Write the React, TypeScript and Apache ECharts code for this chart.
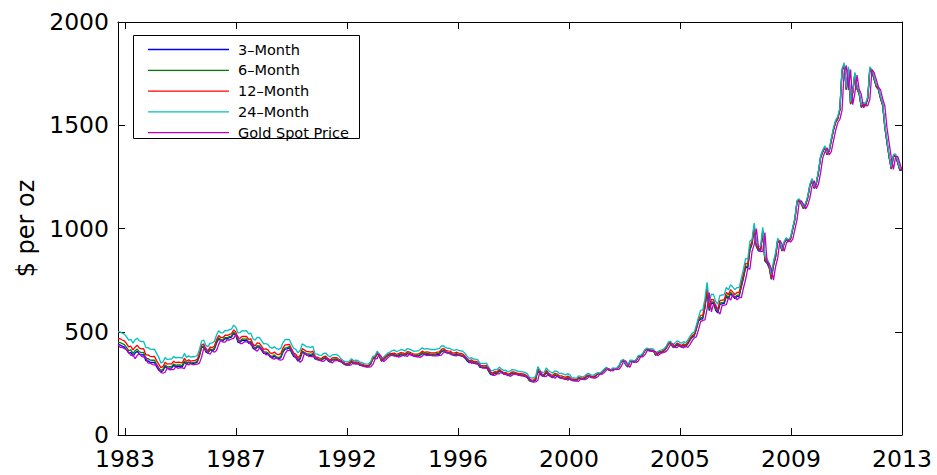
import React, { useEffect, useRef } from 'react';
import * as echarts from 'echarts';

// Monthly observations, May 1983 .. Nov 2013 (one row per year)
const START_YEAR = 1983;
const START_MONTH = 5;

const SPOT = [
  438, 425, 424, 418, 414, 400, 385, 388,
  370, 386, 394, 381, 377, 378, 348, 348, 341, 340, 341, 320,
  303, 299, 304, 325, 316, 317, 317, 330, 323, 326, 325, 322,
  345, 339, 346, 340, 342, 343, 348, 376, 418, 423, 397, 391,
  408, 401, 409, 439, 460, 450, 450, 461, 460, 465, 468, 487,
  477, 442, 443, 452, 451, 452, 437, 440, 413, 406, 420, 419,
  404, 388, 390, 385, 371, 367, 375, 365, 362, 367, 394, 409,
  410, 416, 393, 374, 369, 352, 362, 395, 389, 381, 381, 378,
  383, 364, 363, 358, 357, 366, 368, 356, 349, 359, 360, 361,
  354, 354, 345, 338, 337, 341, 353, 343, 345, 344, 335, 334,
  329, 329, 330, 342, 367, 371, 392, 379, 355, 364, 374, 383,
  387, 382, 384, 377, 381, 386, 385, 380, 391, 389, 384, 379,
  379, 376, 382, 391, 385, 387, 386, 383, 383, 383, 386, 387,
  400, 405, 396, 393, 392, 385, 383, 387, 383, 381, 378, 369,
  355, 347, 352, 344, 344, 341, 324, 324, 323, 325, 306, 289,
  289, 297, 296, 308, 299, 292, 293, 284, 289, 296, 294, 291,
  287, 287, 286, 282, 277, 261, 256, 257, 265, 311, 293, 283,
  284, 300, 286, 280, 275, 286, 282, 274, 273, 270, 266, 272,
  266, 262, 263, 260, 272, 270, 268, 273, 283, 283, 276, 276,
  282, 296, 294, 303, 314, 322, 314, 310, 319, 317, 319, 333,
  356, 359, 340, 328, 355, 356, 351, 360, 379, 379, 389, 407,
  414, 405, 406, 404, 384, 392, 398, 400, 406, 420, 439, 442,
  424, 423, 434, 429, 422, 430, 424, 438, 456, 470, 476, 510,
  549, 555, 557, 610, 690, 596, 633, 632, 598, 585, 627, 629,
  631, 665, 654, 679, 667, 655, 665, 665, 712, 754, 806, 803,
  889, 922, 1000, 909, 888, 889, 980, 839, 829, 806, 750, 816,
  858, 943, 924, 890, 928, 946, 934, 949, 996, 1043, 1127, 1134,
  1117, 1095, 1113, 1148, 1205, 1232, 1193, 1215, 1271, 1342, 1370, 1391,
  1356, 1372, 1424, 1474, 1512, 1529, 1572, 1760, 1790, 1670, 1770, 1600,
  1656, 1743, 1674, 1650, 1585, 1596, 1594, 1626, 1770, 1755, 1721, 1684,
  1671, 1627, 1593, 1487, 1414, 1343, 1286, 1347, 1349, 1316, 1280,
];

const FUT_3M = [
  437, 436, 430, 426, 412, 397, 400, 382,
  397, 405, 392, 388, 389, 359, 359, 352, 351, 352, 331, 314,
  306, 311, 332, 323, 324, 324, 337, 330, 333, 332, 329, 352,
  344, 351, 345, 347, 348, 353, 381, 423, 428, 402, 396, 413,
  407, 415, 445, 466, 456, 456, 467, 466, 471, 474, 493, 483,
  449, 450, 459, 458, 459, 444, 447, 420, 413, 427, 426, 411,
  395, 397, 392, 378, 374, 382, 372, 369, 374, 401, 416, 417,
  422, 399, 380, 375, 358, 368, 401, 395, 387, 387, 384, 389,
  368, 367, 362, 361, 370, 372, 360, 353, 363, 364, 365, 358,
  356, 347, 340, 339, 343, 355, 345, 347, 346, 337, 336, 331,
  331, 332, 344, 369, 373, 394, 381, 357, 366, 376, 385, 389,
  385, 387, 380, 384, 389, 388, 383, 394, 392, 387, 382, 382,
  380, 386, 395, 389, 391, 390, 387, 387, 387, 390, 391, 404,
  408, 399, 396, 395, 388, 386, 390, 386, 384, 381, 372, 358,
  350, 355, 347, 347, 344, 327, 327, 326, 328, 309, 292, 292,
  300, 299, 311, 302, 295, 296, 287, 292, 299, 297, 294, 290,
  289, 288, 284, 279, 263, 258, 259, 267, 313, 295, 285, 286,
  303, 289, 283, 278, 289, 285, 277, 276, 273, 269, 275, 269,
  264, 265, 262, 274, 272, 270, 275, 285, 285, 278, 278, 284,
  297, 295, 304, 315, 323, 315, 311, 320, 318, 320, 334, 357,
  360, 341, 329, 356, 357, 352, 361, 380, 380, 390, 408, 415,
  407, 408, 406, 386, 394, 400, 402, 408, 422, 441, 444, 426,
  426, 437, 432, 425, 433, 427, 441, 459, 473, 479, 513, 552,
  561, 563, 616, 696, 602, 639, 638, 604, 591, 633, 635, 637,
  671, 660, 685, 673, 661, 671, 671, 718, 760, 812, 809, 895,
  925, 1003, 912, 891, 892, 983, 842, 832, 809, 753, 819, 861,
  944, 925, 891, 929, 947, 935, 950, 997, 1044, 1128, 1135, 1118,
  1096, 1114, 1149, 1206, 1233, 1194, 1216, 1272, 1343, 1371, 1392, 1357,
  1374, 1426, 1476, 1514, 1531, 1574, 1762, 1792, 1672, 1772, 1602, 1658,
  1745, 1676, 1652, 1587, 1598, 1596, 1628, 1772, 1757, 1723, 1686, 1673,
  1628, 1594, 1488, 1415, 1344, 1287, 1348, 1350, 1317, 1281, 1281,
];

const FUT_6M = [
  449, 448, 442, 438, 424, 409, 412, 394,
  408, 416, 403, 399, 400, 370, 370, 363, 362, 363, 342, 325,
  313, 318, 339, 330, 331, 331, 344, 337, 340, 339, 336, 359,
  348, 355, 349, 351, 352, 357, 385, 427, 432, 406, 400, 417,
  412, 420, 450, 471, 461, 461, 472, 471, 476, 479, 498, 488,
  455, 456, 465, 464, 465, 450, 453, 426, 419, 433, 432, 417,
  401, 403, 398, 384, 380, 388, 378, 375, 380, 407, 422, 423,
  428, 405, 386, 381, 364, 374, 407, 401, 393, 393, 390, 395,
  371, 370, 365, 364, 373, 375, 363, 356, 366, 367, 368, 361,
  358, 349, 342, 341, 345, 357, 347, 349, 348, 339, 338, 333,
  333, 334, 346, 371, 375, 396, 383, 359, 368, 378, 387, 391,
  389, 391, 384, 388, 393, 392, 387, 398, 396, 391, 386, 386,
  384, 390, 399, 393, 395, 394, 391, 391, 391, 394, 395, 408,
  412, 403, 400, 399, 392, 390, 394, 390, 388, 385, 376, 362,
  353, 358, 350, 350, 347, 330, 330, 329, 331, 312, 295, 295,
  302, 301, 313, 304, 297, 298, 289, 294, 301, 299, 296, 292,
  292, 291, 287, 282, 266, 261, 262, 270, 316, 298, 288, 289,
  306, 292, 286, 281, 292, 288, 280, 279, 276, 272, 278, 272,
  265, 266, 263, 275, 273, 271, 276, 286, 286, 279, 279, 285,
  298, 296, 305, 316, 324, 316, 312, 321, 319, 321, 335, 358,
  361, 342, 330, 357, 358, 353, 362, 381, 381, 391, 409, 416,
  408, 409, 407, 387, 395, 401, 403, 409, 423, 442, 445, 427,
  429, 440, 435, 428, 436, 430, 444, 462, 476, 482, 516, 555,
  567, 569, 622, 702, 608, 645, 644, 610, 597, 639, 641, 643,
  677, 666, 691, 679, 667, 677, 677, 724, 766, 818, 815, 901,
  929, 1007, 916, 895, 896, 987, 846, 836, 813, 757, 823, 865,
  945, 926, 892, 930, 948, 936, 951, 998, 1045, 1129, 1136, 1119,
  1097, 1115, 1150, 1207, 1234, 1195, 1217, 1273, 1344, 1372, 1393, 1358,
  1375, 1427, 1477, 1515, 1532, 1575, 1763, 1793, 1673, 1773, 1603, 1659,
  1746, 1677, 1653, 1588, 1599, 1597, 1629, 1773, 1758, 1724, 1687, 1674,
  1630, 1596, 1490, 1417, 1346, 1289, 1350, 1352, 1319, 1283, 1283,
];

const FUT_12M = [
  467, 466, 460, 456, 442, 427, 430, 412,
  426, 434, 421, 417, 418, 388, 388, 381, 380, 381, 360, 343,
  326, 331, 352, 343, 344, 344, 357, 350, 353, 352, 349, 372,
  357, 364, 358, 360, 361, 366, 394, 436, 441, 415, 409, 426,
  423, 431, 461, 482, 472, 472, 483, 482, 487, 490, 509, 499,
  468, 469, 478, 477, 478, 463, 466, 439, 432, 446, 445, 430,
  415, 417, 412, 398, 394, 402, 392, 389, 394, 421, 436, 437,
  439, 416, 397, 392, 375, 385, 418, 412, 404, 404, 401, 406,
  378, 377, 372, 371, 380, 382, 370, 363, 373, 374, 375, 368,
  363, 354, 347, 346, 350, 362, 352, 354, 353, 344, 343, 338,
  336, 337, 349, 374, 378, 399, 386, 362, 371, 381, 390, 394,
  395, 397, 390, 394, 399, 398, 393, 404, 402, 397, 392, 392,
  391, 397, 406, 400, 402, 401, 398, 398, 398, 401, 402, 415,
  419, 410, 407, 406, 399, 397, 401, 397, 395, 392, 383, 369,
  359, 364, 356, 356, 353, 336, 336, 335, 337, 318, 301, 301,
  307, 306, 318, 309, 302, 303, 294, 299, 306, 304, 301, 297,
  297, 296, 292, 287, 271, 266, 267, 275, 321, 303, 293, 294,
  313, 299, 293, 288, 299, 295, 287, 286, 283, 279, 285, 279,
  269, 270, 267, 279, 277, 275, 280, 290, 290, 283, 283, 289,
  299, 297, 306, 317, 325, 317, 313, 322, 320, 322, 336, 359,
  363, 344, 332, 359, 360, 355, 364, 383, 383, 393, 411, 418,
  411, 412, 410, 390, 398, 404, 406, 412, 426, 445, 448, 430,
  434, 445, 440, 433, 441, 435, 449, 467, 481, 487, 521, 560,
  579, 581, 634, 714, 620, 657, 656, 622, 609, 651, 653, 655,
  690, 679, 704, 692, 680, 690, 690, 737, 779, 831, 828, 914,
  935, 1013, 922, 901, 902, 993, 852, 842, 819, 763, 829, 871,
  948, 929, 895, 933, 951, 939, 954, 1001, 1048, 1132, 1139, 1122,
  1100, 1118, 1153, 1210, 1237, 1198, 1220, 1276, 1347, 1375, 1396, 1361,
  1378, 1430, 1480, 1518, 1535, 1578, 1766, 1796, 1676, 1776, 1606, 1662,
  1750, 1681, 1657, 1592, 1603, 1601, 1633, 1777, 1762, 1728, 1691, 1678,
  1633, 1599, 1493, 1420, 1349, 1292, 1353, 1355, 1322, 1286, 1286,
];

const FUT_24M = [
  500, 499, 493, 489, 475, 460, 463, 445,
  461, 469, 456, 452, 453, 423, 423, 416, 415, 416, 395, 378,
  349, 354, 375, 366, 367, 367, 380, 373, 376, 375, 372, 395,
  376, 383, 377, 379, 380, 385, 413, 455, 460, 434, 428, 445,
  446, 454, 484, 505, 495, 495, 506, 505, 510, 513, 532, 522,
  495, 496, 505, 504, 505, 490, 493, 466, 459, 473, 472, 457,
  441, 443, 438, 424, 420, 428, 418, 415, 420, 447, 462, 463,
  462, 439, 420, 415, 398, 408, 441, 435, 427, 427, 424, 429,
  393, 392, 387, 386, 395, 397, 385, 378, 388, 389, 390, 383,
  371, 362, 355, 354, 358, 370, 360, 362, 361, 352, 351, 346,
  343, 344, 356, 381, 385, 406, 393, 369, 378, 388, 397, 401,
  409, 411, 404, 408, 413, 412, 407, 418, 416, 411, 406, 406,
  407, 413, 422, 416, 418, 417, 414, 414, 414, 417, 418, 431,
  432, 423, 420, 419, 412, 410, 414, 410, 408, 405, 396, 382,
  370, 375, 367, 367, 364, 347, 347, 346, 348, 329, 312, 312,
  318, 317, 329, 320, 313, 314, 305, 310, 317, 315, 312, 308,
  307, 306, 302, 297, 281, 276, 277, 285, 331, 313, 303, 304,
  325, 311, 305, 300, 311, 307, 299, 298, 295, 291, 297, 291,
  276, 277, 274, 286, 284, 282, 287, 297, 297, 290, 290, 296,
  302, 300, 309, 320, 328, 320, 316, 325, 323, 325, 339, 362,
  366, 347, 335, 362, 363, 358, 367, 386, 386, 396, 414, 421,
  417, 418, 416, 396, 404, 410, 412, 418, 432, 451, 454, 436,
  445, 456, 451, 444, 452, 446, 460, 478, 492, 498, 532, 571,
  604, 606, 659, 739, 645, 682, 681, 647, 634, 676, 678, 680,
  714, 703, 728, 716, 704, 714, 714, 761, 803, 855, 852, 938,
  948, 1026, 935, 914, 915, 1006, 865, 855, 832, 776, 842, 884,
  953, 934, 900, 938, 956, 944, 959, 1006, 1053, 1137, 1144, 1127,
  1105, 1123, 1158, 1215, 1242, 1203, 1225, 1281, 1352, 1380, 1401, 1366,
  1385, 1437, 1487, 1525, 1542, 1585, 1773, 1803, 1683, 1783, 1613, 1669,
  1756, 1687, 1663, 1598, 1609, 1607, 1639, 1783, 1768, 1734, 1697, 1684,
  1639, 1605, 1499, 1426, 1355, 1298, 1359, 1361, 1328, 1292, 1292,
];

const SERIES_NAMES = ['3\u2013Month', '6\u2013Month', '12\u2013Month', '24\u2013Month', 'Gold Spot Price'];
const SERIES_VALUES = [FUT_3M, FUT_6M, FUT_12M, FUT_24M, SPOT];
const SERIES_COLORS = ['#0000ff', '#008000', '#ff0000', '#00bfbf', '#bf00bf'];

const X_MIN = 1983 + 4 / 12;
const X_MAX = 2013 + 10 / 12;
const TICK_VALUES = [1983.605, 1987.923, 1992.242, 1996.56, 2000.878, 2005.197, 2009.515, 2013.833];
const TICK_LABELS = ['1983', '1987', '1992', '1996', '2000', '2005', '2009', '2013'];
const Y_TICKS = [0, 500, 1000, 1500, 2000];

const FONT = 'DejaVu Sans, Liberation Sans, Arial, sans-serif';

const monthToYear = (i: number) => START_YEAR + (START_MONTH - 1 + i) / 12;

export default function App() {
  const ref = useRef<HTMLDivElement>(null);
  useEffect(() => {
    if (!ref.current) return;
    const chart = echarts.init(ref.current, undefined, { renderer: 'svg' });
    const tickLabel = (v: number) => {
      const i = TICK_VALUES.findIndex((t) => Math.abs(t - v) < 0.01);
      return i >= 0 ? TICK_LABELS[i] : '';
    };
    const xCommon = {
      type: 'value',
      min: X_MIN,
      max: X_MAX,
      axisLine: { show: true, onZero: false, lineStyle: { color: '#000', width: 1 } },
      axisTick: { show: true, inside: true, length: 7, customValues: TICK_VALUES, lineStyle: { color: '#000' } },
      splitLine: { show: false },
    };
    const yCommon = {
      type: 'value',
      min: Y_TICKS[0],
      max: Y_TICKS[Y_TICKS.length - 1],
      interval: 500,
      axisLine: { show: true, onZero: false, lineStyle: { color: '#000', width: 1 } },
      axisTick: { show: true, inside: true, length: 7, lineStyle: { color: '#000' } },
      splitLine: { show: false },
    };
    chart.setOption({
      animation: false,
      backgroundColor: '#fff',
      grid: { left: 118, right: 35, top: 22, bottom: 40, containLabel: false },
      xAxis: [
        {
          ...xCommon,
          position: 'bottom',
          axisLabel: {
            show: true,
            customValues: TICK_VALUES,
            formatter: tickLabel,
            color: '#000',
            fontSize: 23.5,
            lineHeight: 18,
            fontFamily: FONT,
            margin: 15,
          },
        },
        { ...xCommon, position: 'top', axisLabel: { show: false } },
      ],
      yAxis: [
        {
          ...yCommon,
          position: 'left',
          name: '$ per oz',
          nameLocation: 'middle',
          nameRotate: 90,
          nameGap: 80,
          nameTextStyle: { color: '#000', fontSize: 24, fontFamily: FONT },
          axisLabel: {
            show: true,
            color: '#000',
            fontSize: 23.5,
            lineHeight: 18,
            fontFamily: FONT,
            margin: 9,
            formatter: (v: number) => String(v),
          },
        },
        { ...yCommon, position: 'right', axisLabel: { show: false } },
      ],
      legend: {
        show: true,
        orient: 'vertical',
        left: 148,
        top: 42,
        padding: 0,
        itemWidth: 81,
        itemHeight: 14,
        itemGap: 5.8,
        icon: 'path://M0,0L81,0L81,1.3L0,1.3Z',
        itemStyle: { borderWidth: 0 },
        data: SERIES_NAMES,
        textStyle: { color: '#000', fontSize: 14.5, fontFamily: FONT, padding: [0, 0, 0, 4] },
      },
      graphic: [
        {
          type: 'rect',
          shape: { x: 133.5, y: 35.5, width: 226, height: 103 },
          style: { fill: 'none', stroke: '#000', lineWidth: 1 },
          z: 10,
          silent: true,
        },
      ],
      series: SERIES_NAMES.map((name, k) => ({
        name,
        type: 'line',
        xAxisIndex: 0,
        yAxisIndex: 0,
        symbol: 'none',
        showSymbol: false,
        clip: true,
        color: SERIES_COLORS[k],
        lineStyle: { color: SERIES_COLORS[k], width: 1.3 },
        data: SERIES_VALUES[k].map((v, i) => [monthToYear(i), v]),
      })),
    });
    return () => chart.dispose();
  }, []);
  return (
    <div
      ref={ref}
      style={{ position: 'fixed', left: 0, top: 0, width: 937, height: 475, background: '#fff' }}
    />
  );
}
